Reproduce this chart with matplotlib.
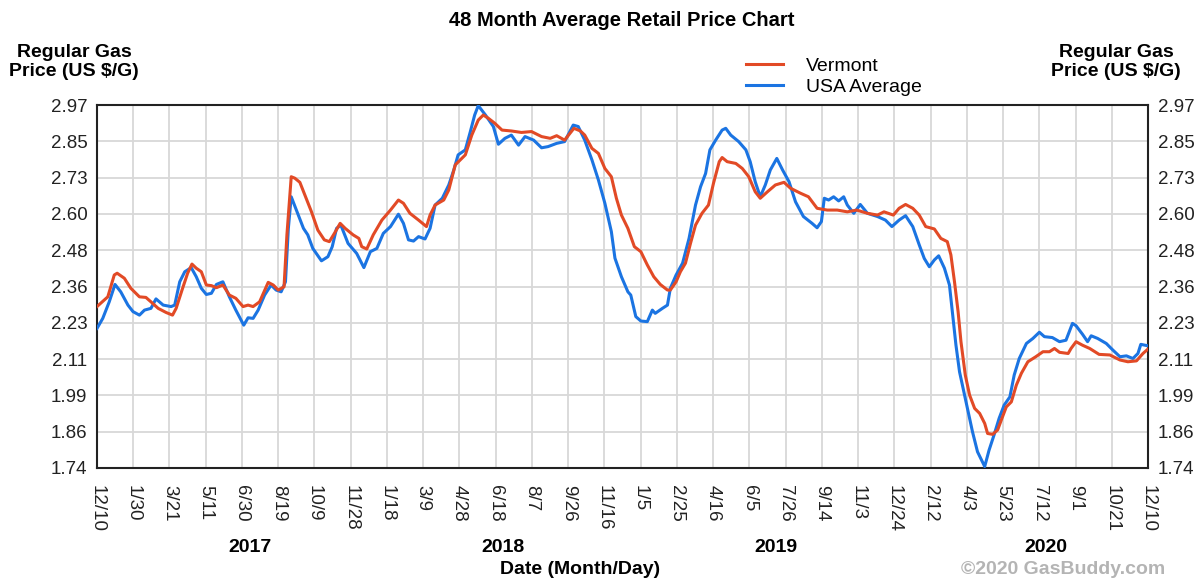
# 48 month average retail gas price chart (Vermont vs USA)

import numpy as np
import matplotlib
matplotlib.use('Agg')
import matplotlib.pyplot as plt

plt.rcParams['font.family'] = 'Liberation Sans'

# days since 2016-12-10, price in US $/gallon
vt_days = [0, 15, 24, 28, 38, 47, 59, 68, 75, 85, 96, 105, 110, 119, 126, 132, 138, 145,
           152, 159, 166, 175, 184, 193, 203, 210, 217, 226, 238, 245, 252, 260, 264, 270,
           275, 282, 289, 298, 307, 316, 323, 330, 338, 345, 356, 364, 368, 375, 384, 396,
           408, 419, 426, 435, 447, 458, 463, 470, 482, 489, 498, 505, 512, 521, 530, 537,
           544, 553, 563, 576, 590, 604, 618, 630, 639, 650, 663, 672, 678, 688, 697, 706,
           715, 722, 729, 738, 747, 756, 765, 774, 783, 793, 797, 805, 811, 818, 825, 832,
           841, 850, 857, 865, 869, 876, 888, 897, 906, 915, 922, 932, 943, 955, 964, 978,
           989, 1001, 1015, 1029, 1043, 1056, 1071, 1085, 1094, 1107, 1115, 1124, 1134,
           1143, 1152, 1164, 1173, 1182, 1187, 1192, 1197, 1201, 1207, 1213, 1220, 1227,
           1234, 1238, 1245, 1252, 1257, 1264, 1271, 1278, 1285, 1294, 1305, 1315, 1324,
           1331, 1338, 1350, 1354, 1361, 1370, 1380, 1393, 1408, 1422, 1433, 1445, 1454, 1461]
vt_price = [2.287, 2.320, 2.394, 2.400, 2.383, 2.349, 2.320, 2.318, 2.303, 2.281, 2.267,
            2.258, 2.281, 2.349, 2.400, 2.431, 2.417, 2.405, 2.360, 2.358, 2.351, 2.360,
            2.326, 2.315, 2.287, 2.292, 2.287, 2.303, 2.369, 2.360, 2.343, 2.354, 2.530,
            2.727, 2.722, 2.708, 2.665, 2.609, 2.546, 2.513, 2.507, 2.535, 2.569, 2.552,
            2.530, 2.518, 2.490, 2.482, 2.530, 2.580, 2.614, 2.648, 2.637, 2.603, 2.580,
            2.558, 2.597, 2.631, 2.648, 2.682, 2.767, 2.784, 2.801, 2.868, 2.919, 2.936,
            2.925, 2.908, 2.885, 2.882, 2.877, 2.880, 2.863, 2.857, 2.866, 2.851, 2.891,
            2.882, 2.868, 2.823, 2.806, 2.755, 2.727, 2.654, 2.597, 2.552, 2.490, 2.473,
            2.428, 2.388, 2.362, 2.343, 2.343, 2.371, 2.405, 2.434, 2.501, 2.563, 2.603,
            2.631, 2.705, 2.778, 2.792, 2.778, 2.772, 2.755, 2.727, 2.676, 2.654, 2.676,
            2.699, 2.708, 2.688, 2.671, 2.659, 2.620, 2.614, 2.614, 2.608, 2.614, 2.603,
            2.597, 2.608, 2.597, 2.620, 2.633, 2.620, 2.597, 2.558, 2.550, 2.518, 2.507,
            2.462, 2.371, 2.270, 2.168, 2.055, 1.987, 1.942, 1.925, 1.891, 1.857, 1.854,
            1.869, 1.902, 1.947, 1.964, 2.021, 2.061, 2.100, 2.117, 2.134, 2.134, 2.145,
            2.132, 2.128, 2.145, 2.168, 2.156, 2.145, 2.125, 2.123, 2.106, 2.100, 2.103,
            2.128, 2.143]

us_days = [0, 8, 17, 25, 33, 43, 50, 59, 66, 75, 82, 92, 103, 108, 115, 122, 131, 138,
           145, 152, 159, 166, 175, 184, 193, 204, 210, 217, 224, 233, 242, 249, 256, 262,
           266, 270, 277, 287, 293, 300, 312, 321, 327, 333, 339, 349, 361, 371, 380, 389,
           398, 408, 419, 426, 433, 440, 447, 456, 463, 470, 480, 489, 496, 502, 512, 519,
           525, 530, 540, 551, 558, 567, 576, 586, 595, 607, 618, 627, 639, 650, 662, 669,
           678, 688, 697, 706, 715, 720, 729, 738, 742, 749, 756, 765, 772, 776, 786, 793,
           797, 805, 814, 823, 832, 839, 846, 852, 860, 869, 874, 881, 892, 902, 908, 915,
           922, 929, 936, 945, 953, 962, 971, 982, 994, 1001, 1007, 1011, 1017, 1024, 1031,
           1038, 1043, 1052, 1061, 1071, 1085, 1096, 1105, 1115, 1124, 1134, 1143, 1150,
           1157, 1164, 1170, 1178, 1185, 1189, 1194, 1199, 1205, 1211, 1217, 1224, 1234,
           1240, 1247, 1254, 1261, 1269, 1275, 1282, 1292, 1301, 1310, 1317, 1328, 1338,
           1347, 1356, 1361, 1370, 1377, 1382, 1391, 1403, 1412, 1422, 1431, 1440, 1447,
           1451, 1461]
us_price = [2.213, 2.247, 2.303, 2.362, 2.337, 2.292, 2.270, 2.258, 2.275, 2.281, 2.313,
            2.292, 2.287, 2.292, 2.371, 2.405, 2.419, 2.388, 2.349, 2.328, 2.332, 2.362,
            2.371, 2.320, 2.275, 2.224, 2.249, 2.247, 2.275, 2.326, 2.360, 2.343, 2.337,
            2.371, 2.552, 2.659, 2.615, 2.552, 2.530, 2.484, 2.442, 2.456, 2.490, 2.552,
            2.563, 2.501, 2.467, 2.419, 2.473, 2.484, 2.535, 2.558, 2.600, 2.569, 2.513,
            2.509, 2.524, 2.516, 2.552, 2.631, 2.654, 2.699, 2.750, 2.801, 2.818, 2.880,
            2.936, 2.968, 2.936, 2.897, 2.837, 2.857, 2.868, 2.834, 2.863, 2.851, 2.825,
            2.829, 2.840, 2.846, 2.902, 2.897, 2.851, 2.784, 2.716, 2.637, 2.541, 2.451,
            2.388, 2.337, 2.326, 2.253, 2.238, 2.236, 2.275, 2.264, 2.281, 2.292, 2.349,
            2.394, 2.434, 2.518, 2.631, 2.693, 2.738, 2.818, 2.851, 2.885, 2.891, 2.868,
            2.846, 2.818, 2.778, 2.710, 2.659, 2.699, 2.750, 2.789, 2.750, 2.710, 2.642,
            2.592, 2.569, 2.554, 2.575, 2.654, 2.648, 2.659, 2.645, 2.659, 2.631, 2.603,
            2.633, 2.603, 2.592, 2.580, 2.558, 2.580, 2.595, 2.558, 2.496, 2.450, 2.422,
            2.445, 2.459, 2.417, 2.360, 2.270, 2.157, 2.066, 1.998, 1.930, 1.863, 1.795,
            1.745, 1.800, 1.852, 1.908, 1.953, 1.981, 2.055, 2.111, 2.162, 2.179, 2.200,
            2.185, 2.182, 2.168, 2.173, 2.230, 2.222, 2.193, 2.168, 2.188, 2.179, 2.162,
            2.140, 2.117, 2.120, 2.111, 2.128, 2.159, 2.154]

x_labels = ['12/10', '1/30', '3/21', '5/11', '6/30', '8/19', '10/9', '11/28', '1/18',
            '3/9', '4/28', '6/18', '8/7', '9/26', '11/16', '1/5', '2/25', '4/16', '6/5',
            '7/26', '9/14', '11/3', '12/24', '2/12', '4/3', '5/23', '7/12', '9/1',
            '10/21', '12/10']
y_labels = ['1.74', '1.86', '1.99', '2.11', '2.23', '2.36', '2.48', '2.60', '2.73',
            '2.85', '2.97']
years = ['2017', '2018', '2019', '2020']
year_days = [213, 564, 944, 1319]

W, H = 1201, 581
fig = plt.figure(figsize=(W / 100, H / 100), dpi=100)
ax = fig.add_axes([97 / W, 1 - 468 / H, (1148 - 97) / W, (468 - 105) / H])

red = '#e24a26'
blue = '#1b74e2'
ax.plot(us_days, us_price, color=blue, lw=2.2, label='USA Average', zorder=3)
ax.plot(vt_days, vt_price, color=red, lw=2.2, label='Vermont', zorder=4)

ax.set_xlim(0, 1461)
ax.set_ylim(1.74, 2.97)
ax.set_xticks(np.linspace(0, 1461, len(x_labels)))
ax.set_xticklabels(x_labels, rotation=-90, fontsize=13.5)
ax.set_yticks(np.linspace(1.74, 2.97, len(y_labels)))
ax.set_yticklabels(y_labels, fontsize=13.5)
ax.tick_params(axis='both', length=0, colors='#222222')
ax.tick_params(axis='y', pad=7, labelright=True)
ax.tick_params(axis='x', pad=12)
ax.grid(True, color='#d8d8d8', lw=1.3)
ax.set_axisbelow(True)
for s in ax.spines.values():
    s.set_color('#222222')
    s.set_linewidth(1.5)

# year labels under the date ticks
year_y = -(547 - 468) / (468 - 105)
for yr, d in zip(years, year_days):
    ax.text(d, year_y, yr, transform=ax.get_xaxis_transform(), fontsize=14,
            fontweight='bold', ha='center', va='center')

fig.text(622 / W, 1 - 20 / H, '48 Month Average Retail Price Chart', fontsize=14.5,
         fontweight='bold', ha='center', va='center')
fig.text(74 / W, 1 - 62 / H, 'Regular Gas\nPrice (US $/G)', fontsize=14,
         fontweight='bold', ha='center', va='center', linespacing=1.15)
fig.text(1116 / W, 1 - 62 / H, 'Regular Gas\nPrice (US $/G)', fontsize=14,
         fontweight='bold', ha='center', va='center', linespacing=1.15)
fig.text(580 / W, 1 - 569 / H, 'Date (Month/Day)', fontsize=14, fontweight='bold',
         ha='center', va='center')
fig.text(1165 / W, 1 - 569 / H, '\u00a92020 GasBuddy.com', fontsize=14,
         fontweight='bold', color='#b4b4b4', ha='right', va='center')

h, l = ax.get_legend_handles_labels()
fig.legend(h[::-1], l[::-1], loc='upper left', bbox_to_anchor=(746 / W, 1 - 57 / H),
           frameon=False, fontsize=14, handlelength=1.9, handletextpad=1.2,
           labelspacing=0.2, borderpad=0, borderaxespad=0)

plt.savefig('out.png', dpi=100)
